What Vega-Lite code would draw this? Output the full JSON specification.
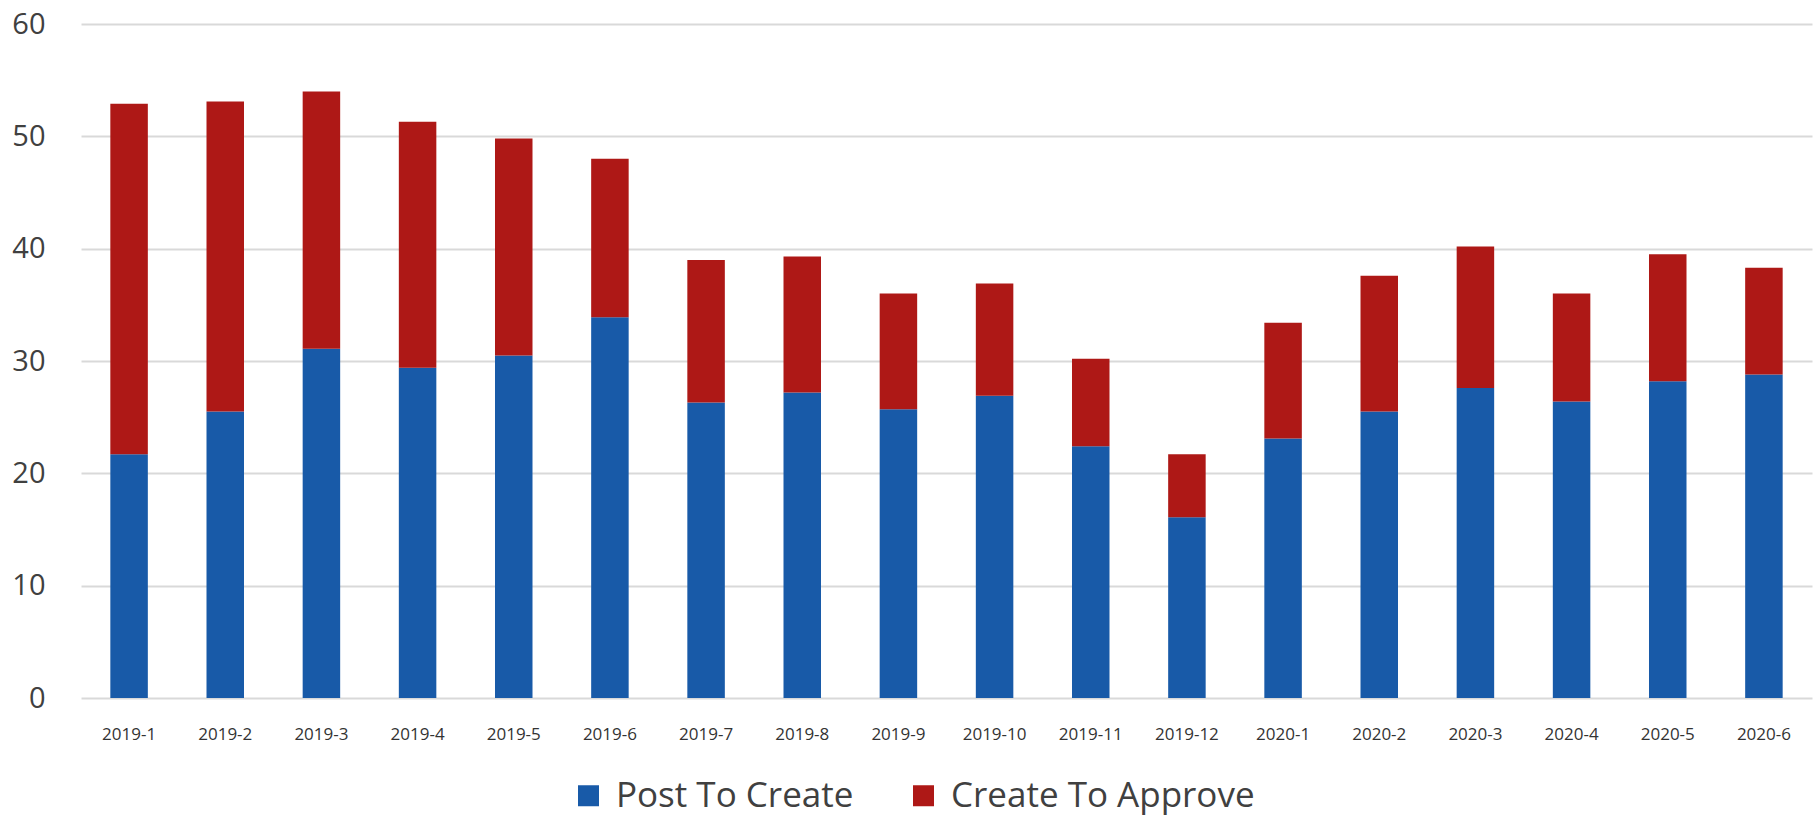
{
  "$schema": "https://vega.github.io/schema/vega-lite/v6.json",
  "autosize": {"type": "none"},
  "padding": {"left": 81, "top": 24, "right": 4, "bottom": 121},
  "width": 1731,
  "height": 674,
  "background": "white",
  "config": {
    "view": {"stroke": null},
    "font": "Open Sans"
  },
  "data": {
    "values": [
      {"month": "2019-1", "series": "Post To Create", "value": 21.7},
      {"month": "2019-1", "series": "Create To Approve", "value": 31.2},
      {"month": "2019-2", "series": "Post To Create", "value": 25.5},
      {"month": "2019-2", "series": "Create To Approve", "value": 27.6},
      {"month": "2019-3", "series": "Post To Create", "value": 31.1},
      {"month": "2019-3", "series": "Create To Approve", "value": 22.9},
      {"month": "2019-4", "series": "Post To Create", "value": 29.4},
      {"month": "2019-4", "series": "Create To Approve", "value": 21.9},
      {"month": "2019-5", "series": "Post To Create", "value": 30.5},
      {"month": "2019-5", "series": "Create To Approve", "value": 19.3},
      {"month": "2019-6", "series": "Post To Create", "value": 33.9},
      {"month": "2019-6", "series": "Create To Approve", "value": 14.1},
      {"month": "2019-7", "series": "Post To Create", "value": 26.3},
      {"month": "2019-7", "series": "Create To Approve", "value": 12.7},
      {"month": "2019-8", "series": "Post To Create", "value": 27.2},
      {"month": "2019-8", "series": "Create To Approve", "value": 12.1},
      {"month": "2019-9", "series": "Post To Create", "value": 25.7},
      {"month": "2019-9", "series": "Create To Approve", "value": 10.3},
      {"month": "2019-10", "series": "Post To Create", "value": 26.9},
      {"month": "2019-10", "series": "Create To Approve", "value": 10.0},
      {"month": "2019-11", "series": "Post To Create", "value": 22.4},
      {"month": "2019-11", "series": "Create To Approve", "value": 7.8},
      {"month": "2019-12", "series": "Post To Create", "value": 16.1},
      {"month": "2019-12", "series": "Create To Approve", "value": 5.6},
      {"month": "2020-1", "series": "Post To Create", "value": 23.1},
      {"month": "2020-1", "series": "Create To Approve", "value": 10.3},
      {"month": "2020-2", "series": "Post To Create", "value": 25.5},
      {"month": "2020-2", "series": "Create To Approve", "value": 12.1},
      {"month": "2020-3", "series": "Post To Create", "value": 27.6},
      {"month": "2020-3", "series": "Create To Approve", "value": 12.6},
      {"month": "2020-4", "series": "Post To Create", "value": 26.4},
      {"month": "2020-4", "series": "Create To Approve", "value": 9.6},
      {"month": "2020-5", "series": "Post To Create", "value": 28.2},
      {"month": "2020-5", "series": "Create To Approve", "value": 11.3},
      {"month": "2020-6", "series": "Post To Create", "value": 28.8},
      {"month": "2020-6", "series": "Create To Approve", "value": 9.5}
    ]
  },
  "mark": {"type": "bar"},
  "encoding": {
    "x": {
      "field": "month",
      "type": "nominal",
      "sort": null,
      "title": null,
      "scale": {"paddingInner": 0.61, "paddingOuter": 0.305},
      "axis": {
        "labelAngle": 0,
        "labelFontSize": 17,
        "labelColor": "#333333",
        "labelPadding": 28,
        "ticks": false,
        "domain": false,
        "grid": false
      }
    },
    "y": {
      "field": "value",
      "type": "quantitative",
      "stack": "zero",
      "title": null,
      "scale": {"domain": [0, 60], "nice": false},
      "axis": {
        "values": [0, 10, 20, 30, 40, 50, 60],
        "labelFontSize": 29,
        "labelColor": "#404040",
        "labelPadding": 36,
        "ticks": false,
        "domain": false,
        "gridColor": "#d9d9d9",
        "gridWidth": 2
      }
    },
    "color": {
      "field": "series",
      "type": "nominal",
      "scale": {
        "domain": ["Post To Create", "Create To Approve"],
        "range": ["#185aa8", "#ae1816"]
      },
      "legend": {
        "title": null,
        "orient": "none",
        "direction": "horizontal",
        "legendX": 490,
        "legendY": 754,
        "symbolType": "square",
        "symbolSize": 441,
        "symbolStrokeWidth": 0,
        "labelFontSize": 35,
        "labelLimit": 0,
        "labelColor": "#404040",
        "labelOffset": 10,
        "columnPadding": 52
      }
    },
    "order": {"field": "series", "sort": "descending"}
  }
}
